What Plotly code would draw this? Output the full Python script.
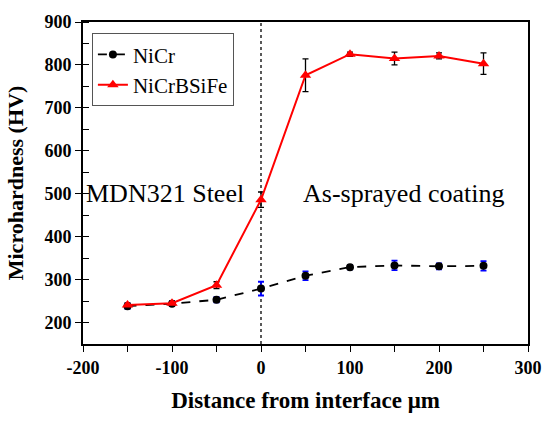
import plotly.graph_objects as go

# Distance from the coating/substrate interface (micrometres)
distance = [-150, -100, -50, 0, 50, 100, 150, 200, 250]

# NiCr coating hardness and spread
nicr_hv = [238, 244, 253, 279, 309, 329, 333, 331, 332]
nicr_err = [6, 5, 6, 16, 10, 5, 11, 7, 11]

# NiCrBSiFe coating hardness and spread
nicrbsife_hv = [241, 245, 287, 486, 776, 825, 815, 821, 803]
nicrbsife_err = [5, 5, 8, 18, 38, 5, 15, 7, 25]

x_ticks = [-200, -100, 0, 100, 200, 300]
x_labels = ["-200", "-100", "0", "100", "200", "300"]
y_ticks = [200, 300, 400, 500, 600, 700, 800, 900]
y_labels = ["200", "300", "400", "500", "600", "700", "800", "900"]

SERIF = "Liberation Serif"

fig = go.Figure()

fig.add_trace(go.Scatter(
    x=distance, y=nicr_hv, name="NiCr", mode="lines+markers",
    line=dict(color="black", width=1.8, dash="dash"),
    marker=dict(symbol="circle", size=8, color="black"),
    error_y=dict(type="data", array=nicr_err, color="blue", thickness=1.8, width=3),
))

fig.add_trace(go.Scatter(
    x=distance, y=nicrbsife_hv, name="NiCrBSiFe", mode="lines+markers",
    line=dict(color="red", width=2),
    marker=dict(symbol="triangle-up", size=10, color="red"),
    error_y=dict(type="data", array=nicrbsife_err, color="black", thickness=1.3, width=3),
))

# Interface marker
fig.add_shape(type="line", x0=0, x1=0, y0=150, y1=900, xref="x", yref="y",
              line=dict(color="black", width=1.3, dash="dot"), layer="below")

fig.add_annotation(x=-108, y=500, text="MDN321 Steel", showarrow=False,
                   font=dict(family=SERIF, size=26, color="black"), xref="x", yref="y")
fig.add_annotation(x=160, y=500, text="As-sprayed coating", showarrow=False,
                   font=dict(family=SERIF, size=26, color="black"), xref="x", yref="y")

fig.update_layout(
    width=554, height=421,
    margin=dict(l=83, r=18, t=17, b=66),
    paper_bgcolor="white", plot_bgcolor="rgba(255,255,255,0)",
    font=dict(family=SERIF, color="black"),
    legend=dict(x=0.02, y=0.965, xanchor="left", yanchor="top",
                bgcolor="white", bordercolor="#555", borderwidth=1,
                font=dict(family=SERIF, size=21, color="black")),
)
fig.update_xaxes(range=[-200, 300], tickvals=x_ticks,
                 ticktext=["<b>%s</b>" % t for t in x_labels],
                 ticks="outside", ticklen=6, tickcolor="#000", mirror=True, showline=True,
                 linecolor="#000", linewidth=2, showgrid=False, zeroline=False,
                 tickfont=dict(family=SERIF, size=18, color="black"),
                 minor=dict(ticks="outside", ticklen=6, tickcolor="#000", dtick=50),
                 title_text="<b>Distance from interface μm</b>",
                 title_font=dict(family=SERIF, size=23, color="black"))
fig.update_yaxes(range=[150, 900], tickvals=y_ticks,
                 ticktext=["<b>%s</b>" % t for t in y_labels],
                 ticks="outside", ticklen=6, tickcolor="#000", mirror=True, showline=True,
                 linecolor="#000", linewidth=2, showgrid=False, zeroline=False,
                 tickfont=dict(family=SERIF, size=18, color="black"),
                 minor=dict(ticks="inside", ticklen=6, tickcolor="#000", dtick=50),
                 title_text="<b>Microhardness (HV)</b>",
                 title_font=dict(family=SERIF, size=22, color="black"))

fig.write_html("out.html")
